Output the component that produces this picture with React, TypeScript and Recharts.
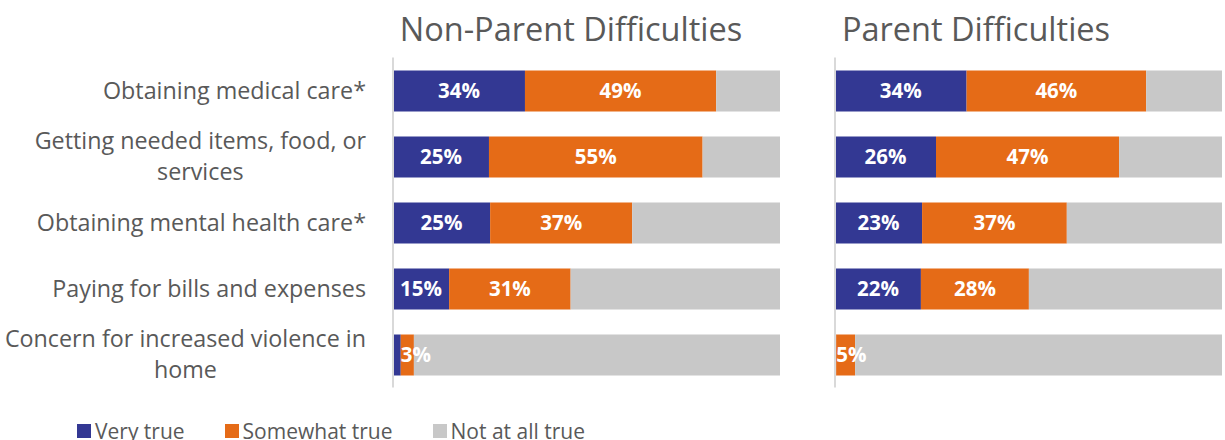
import React from "react";
import { BarChart, Bar, XAxis, YAxis, LabelList } from "recharts";

const CATEGORIES = [
  "Obtaining medical care*",
  "Getting needed items, food, or services",
  "Obtaining mental health care*",
  "Paying for bills and expenses",
  "Concern for increased violence in home",
];

const SERIES = ["Very true", "Somewhat true", "Not at all true"];
const COLORS = ["#333893", "#E56B17", "#C8C8C8"];

// non-parent
const NP_VERY = [34.1, 24.8, 25.1, 14.5, 2.0];
const NP_SOMEWHAT = [49.4, 55.2, 36.7, 31.4, 3.4];
const NP_NOT = [16.5, 20.0, 38.2, 54.1, 94.6];

// parent
const P_VERY = [34.0, 26.1, 22.5, 22.2, 0.3];
const P_SOMEWHAT = [46.4, 47.3, 37.4, 27.9, 4.9];
const P_NOT = [19.6, 26.6, 40.1, 49.9, 94.8];

const FONT = "'Open Sans', sans-serif";
const GREY_TEXT = "#595959";

const npData = CATEGORIES.map((name, i) => ({
  name,
  very: NP_VERY[i],
  somewhat: NP_SOMEWHAT[i],
  not: NP_NOT[i],
}));

const pData = CATEGORIES.map((name, i) => ({
  name,
  very: P_VERY[i],
  somewhat: P_SOMEWHAT[i],
  not: P_NOT[i],
}));

let ctx: CanvasRenderingContext2D | null = null;
function measure(text: string, size: number) {
  if (!ctx) ctx = document.createElement("canvas").getContext("2d");
  if (!ctx) return text.length * size * 0.5;
  ctx.font = `${size}px 'Open Sans'`;
  return ctx.measureText(text).width;
}

const TICK_SIZE = 23.3;
const MAX_W = 375;

function wrap(text: string) {
  const words = text.split(" ");
  const lines: string[] = [];
  let cur = "";
  for (const w of words) {
    const next = cur ? cur + " " + w : w;
    if (cur && measure(next, TICK_SIZE) > MAX_W) {
      lines.push(cur);
      cur = w;
    } else cur = next;
  }
  if (cur) lines.push(cur);
  return lines;
}

const CategoryTick = (props: any) => {
  const { x, y, payload } = props;
  const lines = wrap(payload.value);
  const right = x - 19;
  const blockW = Math.max(...lines.map((l) => measure(l, TICK_SIZE)));
  const cx = right - blockW / 2;
  const lh = 31;
  const y0 = y - ((lines.length - 1) * lh) / 2;
  return (
    <g>
      {lines.map((l, i) => (
        <text
          key={i}
          x={lines.length > 1 ? cx : right}
          y={y0 + i * lh}
          dy="0.35em"
          textAnchor={lines.length > 1 ? "middle" : "end"}
          fill={GREY_TEXT}
          fontSize={TICK_SIZE}
          fontFamily={FONT}
        >
          {l}
        </text>
      ))}
    </g>
  );
};

const PctLabel = (props: any) => {
  const { x, y, width, height, value } = props;
  const txt = Math.round(value) + "%";
  if (Math.round(value) < 3) return null;
  const small = width < 30;
  return (
    <text
      x={small ? x : x + width / 2}
      y={y + height / 2}
      dy="0.36em"
      textAnchor={small ? "start" : "middle"}
      fill="#fff"
      fontSize={20.5}
      fontWeight={700}
      fontFamily={FONT}
    >
      {txt}
    </text>
  );
};

function Panel({ data, showTicks }: { data: any[]; showTicks: boolean }) {
  return (
    <BarChart
      width={showTicks ? 782 : 389}
      height={400}
      data={data}
      layout="vertical"
      margin={{ top: 57.5, right: showTicks ? 2 : 0, bottom: 12.5, left: 0 }}
    >
      <XAxis type="number" domain={[0, 100]} hide />
      <YAxis
        type="category"
        dataKey="name"
        width={showTicks ? 393 : 2}
        axisLine={{ stroke: "#D9D9D9", strokeWidth: 2 }}
        tickLine={false}
        tick={showTicks ? <CategoryTick /> : false}
        interval={0}
      />
      {["very", "somewhat", "not"].map((key, i) => (
        <Bar
          key={key}
          dataKey={key}
          name={SERIES[i]}
          stackId="a"
          fill={COLORS[i]}
          barSize={41}
          isAnimationActive={false}
        >
          {i < 2 && <LabelList dataKey={key} content={<PctLabel />} />}
        </Bar>
      ))}
    </BarChart>
  );
}

export default function App() {
  return (
    <div
      style={{
        position: "absolute",
        left: 0,
        top: 0,
        width: 1225,
        height: 440,
        overflow: "hidden",
        background: "#fff",
        fontFamily: FONT,
      }}
    >
      <div
        style={{
          position: "absolute",
          left: 371,
          width: 400,
          top: 6,
          textAlign: "center",
          fontSize: 32.5,
          color: GREY_TEXT,
          whiteSpace: "nowrap",
        }}
      >
        Non-Parent Difficulties
      </div>
      <div
        style={{
          position: "absolute",
          left: 776,
          width: 400,
          top: 6,
          textAlign: "center",
          fontSize: 32.5,
          color: GREY_TEXT,
          whiteSpace: "nowrap",
        }}
      >
        Parent Difficulties
      </div>
      <div style={{ position: "absolute", left: 0, top: 0 }}>
        <Panel data={npData} showTicks={true} />
      </div>
      <div style={{ position: "absolute", left: 833, top: 0 }}>
        <Panel data={pData} showTicks={false} />
      </div>
      <div
        style={{
          position: "absolute",
          left: 77,
          top: 417,
          display: "flex",
          alignItems: "center",
          fontSize: 21,
          color: GREY_TEXT,
          whiteSpace: "nowrap",
        }}
      >
        {SERIES.map((s, i) => (
          <div
            key={s}
            style={{ display: "flex", alignItems: "center", marginRight: 40 }}
          >
            <span
              style={{
                display: "inline-block",
                width: 14,
                height: 14,
                background: COLORS[i],
                marginRight: 4,
              }}
            />
            {s}
          </div>
        ))}
      </div>
    </div>
  );
}
